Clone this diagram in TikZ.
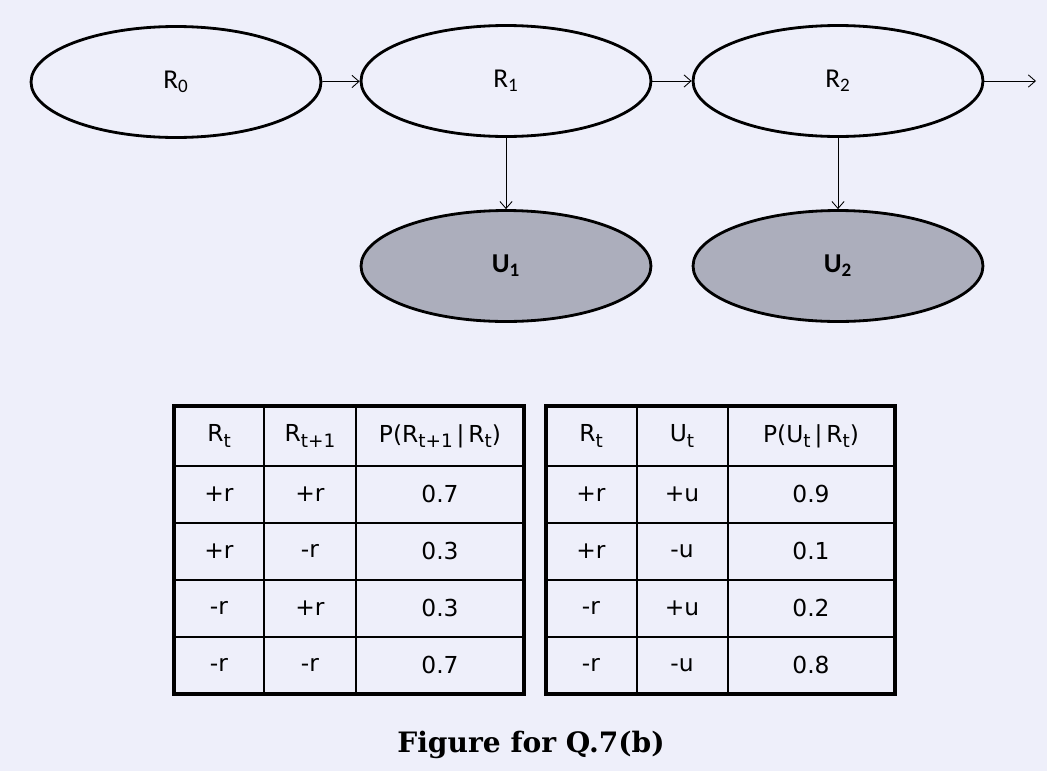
\documentclass[tikz,border=0pt]{standalone}
\usepackage{fontspec}
\setmainfont{Carlito}
\newfontfamily\tabfont{DejaVu Sans}
\newfontfamily\capfont{DejaVu Serif}
\usetikzlibrary{shapes.geometric,arrows.meta}
\definecolor{paper}{RGB}{238,239,250}
\definecolor{obsgray}{RGB}{172,174,188}
\newcommand\tsub[1]{\raisebox{-0.4ex}{\fontsize{10.5}{12}\selectfont #1}}
\begin{document}
\begin{tikzpicture}[x=0.02cm,y=-0.02cm,
  every node/.style={font=\fontsize{15.5}{18}\selectfont},
  state/.style={draw,ellipse,line width=1.6pt,minimum width=5.8cm,minimum height=2.22cm},
  obs/.style={state,fill=obsgray,font=\fontsize{15.5}{18}\selectfont\bfseries},
  link/.style={-{Straight Barb[length=4pt,width=7pt]},line width=0.5pt},
  cell/.style={font=\tabfont\fontsize{13.3}{16}\selectfont},
  frame/.style={line width=1.8pt},
  rule/.style={line width=0.9pt}]
\fill[paper] (0,0) rectangle (1047,771);
% hidden chain and observations
\node[state] (r0) at (176,82) {R\textsubscript{0}};
\node[state] (r1) at (506,81) {R\textsubscript{1}};
\node[state] (r2) at (838,81) {R\textsubscript{2}};
\node[obs] (u1) at (506,266) {U\textsubscript{1}};
\node[obs] (u2) at (838,266) {U\textsubscript{2}};
\coordinate (next) at (1036,81);
\draw[link] (r0) -- (r1);
\draw[link] (r1) -- (r2);
\draw[link] (r2) -- (next);
\draw[link] (r1) -- (u1);
\draw[link] (r2) -- (u2);
% transition table
\draw[rule] (174,466) -- (524,466);
\foreach \y in {523,580,637} \draw[rule] (174,\y) -- (524,\y);
\foreach \x in {264,356} \draw[rule] (\x,406) -- (\x,694);
\draw[frame] (174,406) rectangle (524,694);
\node[cell] (ta-0-1) at (219,436) {R\tsub{t}};
\node[cell] (ta-0-2) at (310,436) {R\tsub{t+1}};
\node[cell] (ta-0-3) at (440,436) {P(R\tsub{t+1}\,|\,R\tsub{t})};
\foreach \a/\b/\p [count=\i] in {+r/+r/0.7,+r/-r/0.3,-r/+r/0.3,-r/-r/0.7}{
  \node[cell] (ta-\i-1) at (219,437+57*\i) {\a};
  \node[cell] (ta-\i-2) at (310,437+57*\i) {\b};
  \node[cell] (ta-\i-3) at (440,437+57*\i) {\p};
}
% sensor table
\draw[rule] (546,466) -- (895,466);
\foreach \y in {523,580,637} \draw[rule] (546,\y) -- (895,\y);
\foreach \x in {637,728} \draw[rule] (\x,406) -- (\x,694);
\draw[frame] (546,406) rectangle (895,694);
\node[cell] (tb-0-1) at (591,436) {R\tsub{t}};
\node[cell] (tb-0-2) at (682,436) {U\tsub{t}};
\node[cell] (tb-0-3) at (811,436) {P(U\tsub{t}\,|\,R\tsub{t})};
\foreach \a/\b/\p [count=\i] in {+r/+u/0.9,+r/-u/0.1,-r/+u/0.2,-r/-u/0.8}{
  \node[cell] (tb-\i-1) at (591,437+57*\i) {\a};
  \node[cell] (tb-\i-2) at (682,437+57*\i) {\b};
  \node[cell] (tb-\i-3) at (811,437+57*\i) {\p};
}
\node[font={\capfont\bfseries\fontsize{16}{19}\selectfont}] (cap) at (531,745) {Figure for Q.7(b)};
\end{tikzpicture}
\end{document}
